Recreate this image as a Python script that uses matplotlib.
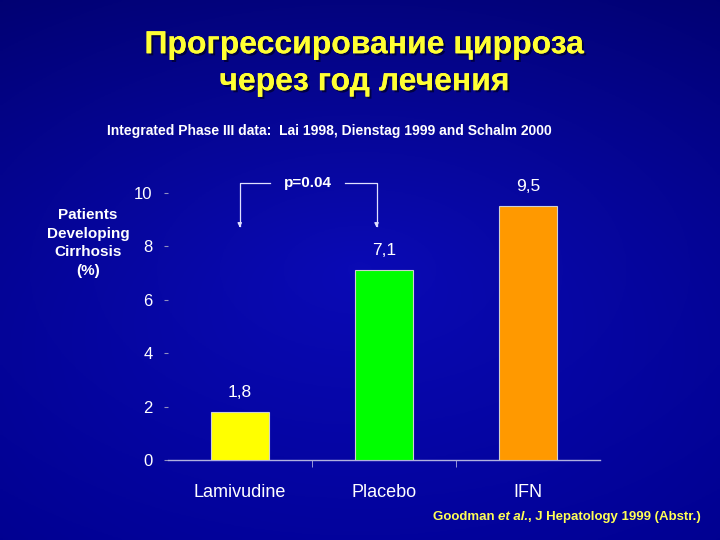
import numpy as np
import matplotlib as mpl
mpl.use('Agg')
import matplotlib.pyplot as plt
import matplotlib.patheffects as pe

mpl.rcParams.update({
    'font.family': ['Liberation Sans', 'DejaVu Sans'],
    'axes.unicode_minus': False,
})

# data
categories = ['Lamivudine', 'Placebo', 'IFN']
values = [1.8, 7.1, 9.5]
value_labels = ['1,8', '7,1', '9,5']
bar_colors = ['#ffff00', '#00ff00', '#ff9900']
yticks = [0, 2, 4, 6, 8, 10]

title = 'Прогрессирование цирроза\nчерез год лечения'
subtitle = 'Integrated Phase III data:  Lai 1998, Dienstag 1999 and Schalm 2000'
ylabel = 'Patients\nDeveloping\nCirrhosis\n(%)'
p_text = 'p=0.04'

fig = plt.figure(figsize=(7.2, 5.4), dpi=100)

# background gradient (navy, lighter in the middle and toward the bottom)
bg = fig.add_axes([0, 0, 1, 1], zorder=-10)
yy, xx = np.mgrid[-1:1:200j, -1:1:200j]
r = np.sqrt(xx**2 * 0.6 + yy**2)
grad = np.clip(1 - r / 1.4, 0, 1)
vert = (yy + 1) / 2  # 0 at top row, 1 at bottom row
img = np.zeros((200, 200, 3))
img[..., 0] = 0.04 * grad
img[..., 1] = 0.04 * grad
img[..., 2] = 0.43 + 0.12 * vert + 0.22 * grad
bg.imshow(np.clip(img, 0, 1), aspect='auto', extent=[0, 1, 0, 1])
bg.axis('off')

ax = fig.add_axes([0.233, 0.148, 0.6, 0.495])
ax.set_facecolor('none')
x = np.arange(len(categories))
ax.bar(x, values, width=0.4, color=bar_colors, edgecolor='#d0d0d0', linewidth=0.8, zorder=3)
for xi, v, lab in zip(x, values, value_labels):
    ax.text(xi, v + 0.45, lab, ha='center', va='bottom', color='white', fontsize=12.5)

ax.set_xlim(-0.5, 2.5)
ax.set_ylim(0, 10)
for s in ['top', 'right', 'left']:
    ax.spines[s].set_visible(False)
ax.spines['bottom'].set_color('#b0b0e0')
ax.spines['bottom'].set_linewidth(1.0)

ax.set_yticks(yticks)
ax.tick_params(axis='y', colors='#9090c0', labelcolor='white', labelsize=12,
               length=3, pad=8, direction='out')
ax.set_xticks(x)
ax.set_xticklabels(categories)
ax.tick_params(axis='x', length=0, labelcolor='white', labelsize=13, pad=17)
ax.set_xticks([0.5, 1.5], minor=True)
ax.tick_params(axis='x', which='minor', length=5, color='#b0b0e0', direction='out')

# p-value bracket
yb = 10.37
ytip = 8.6
lc = '#e0e0ff'
ax.plot([0, 0, 0.21], [ytip + 0.15, yb, yb], color=lc, lw=0.9, clip_on=False)
ax.plot([0.73, 0.95, 0.95], [yb, yb, ytip + 0.15], color=lc, lw=0.9, clip_on=False)
for xa in [0, 0.95]:
    ax.annotate('', xy=(xa, ytip), xytext=(xa, ytip + 0.3),
                arrowprops=dict(arrowstyle='-|>', color=lc, lw=0.9, mutation_scale=6),
                annotation_clip=False)
ax.text(0.47, yb, p_text, ha='center', va='center', color='white',
        fontsize=11, fontweight='bold')

# texts
fig.text(0.507, 0.882, title, ha='center', va='center', color='#ffff33',
         fontsize=23, fontweight='bold', linespacing=1.3,
         path_effects=[pe.withSimplePatchShadow(offset=(1.5, -1.5), shadow_rgbFace='#000030', alpha=0.8),
                       pe.Normal()])
fig.text(0.457, 0.757, subtitle, ha='center', va='center', color='white',
         fontsize=10, fontweight='bold')
fig.text(0.122, 0.55, ylabel, ha='center', va='center', color='white',
         fontsize=11, fontweight='bold', linespacing=1.45)

t1 = fig.text(0.601, 0.037, 'Goodman ', ha='left', va='baseline', color='#ffff55',
              fontsize=9.5, fontweight='bold')
t2 = fig.text(0, 0, 'et al.', color='#ffff55', fontsize=9.5, fontweight='bold',
              fontstyle='italic', ha='left', va='baseline')
fig.canvas.draw()
rdr = fig.canvas.get_renderer()
bb1 = t1.get_window_extent(rdr)
t2.set_position((bb1.x1 / fig.bbox.width, 0.037))
fig.canvas.draw()
bb2 = t2.get_window_extent(rdr)
fig.text(bb2.x1 / fig.bbox.width, 0.037, ', J Hepatology 1999 (Abstr.)', ha='left',
         va='baseline', color='#ffff55', fontsize=9.5, fontweight='bold')

fig.savefig('out.png', dpi=100, facecolor='#000080')
